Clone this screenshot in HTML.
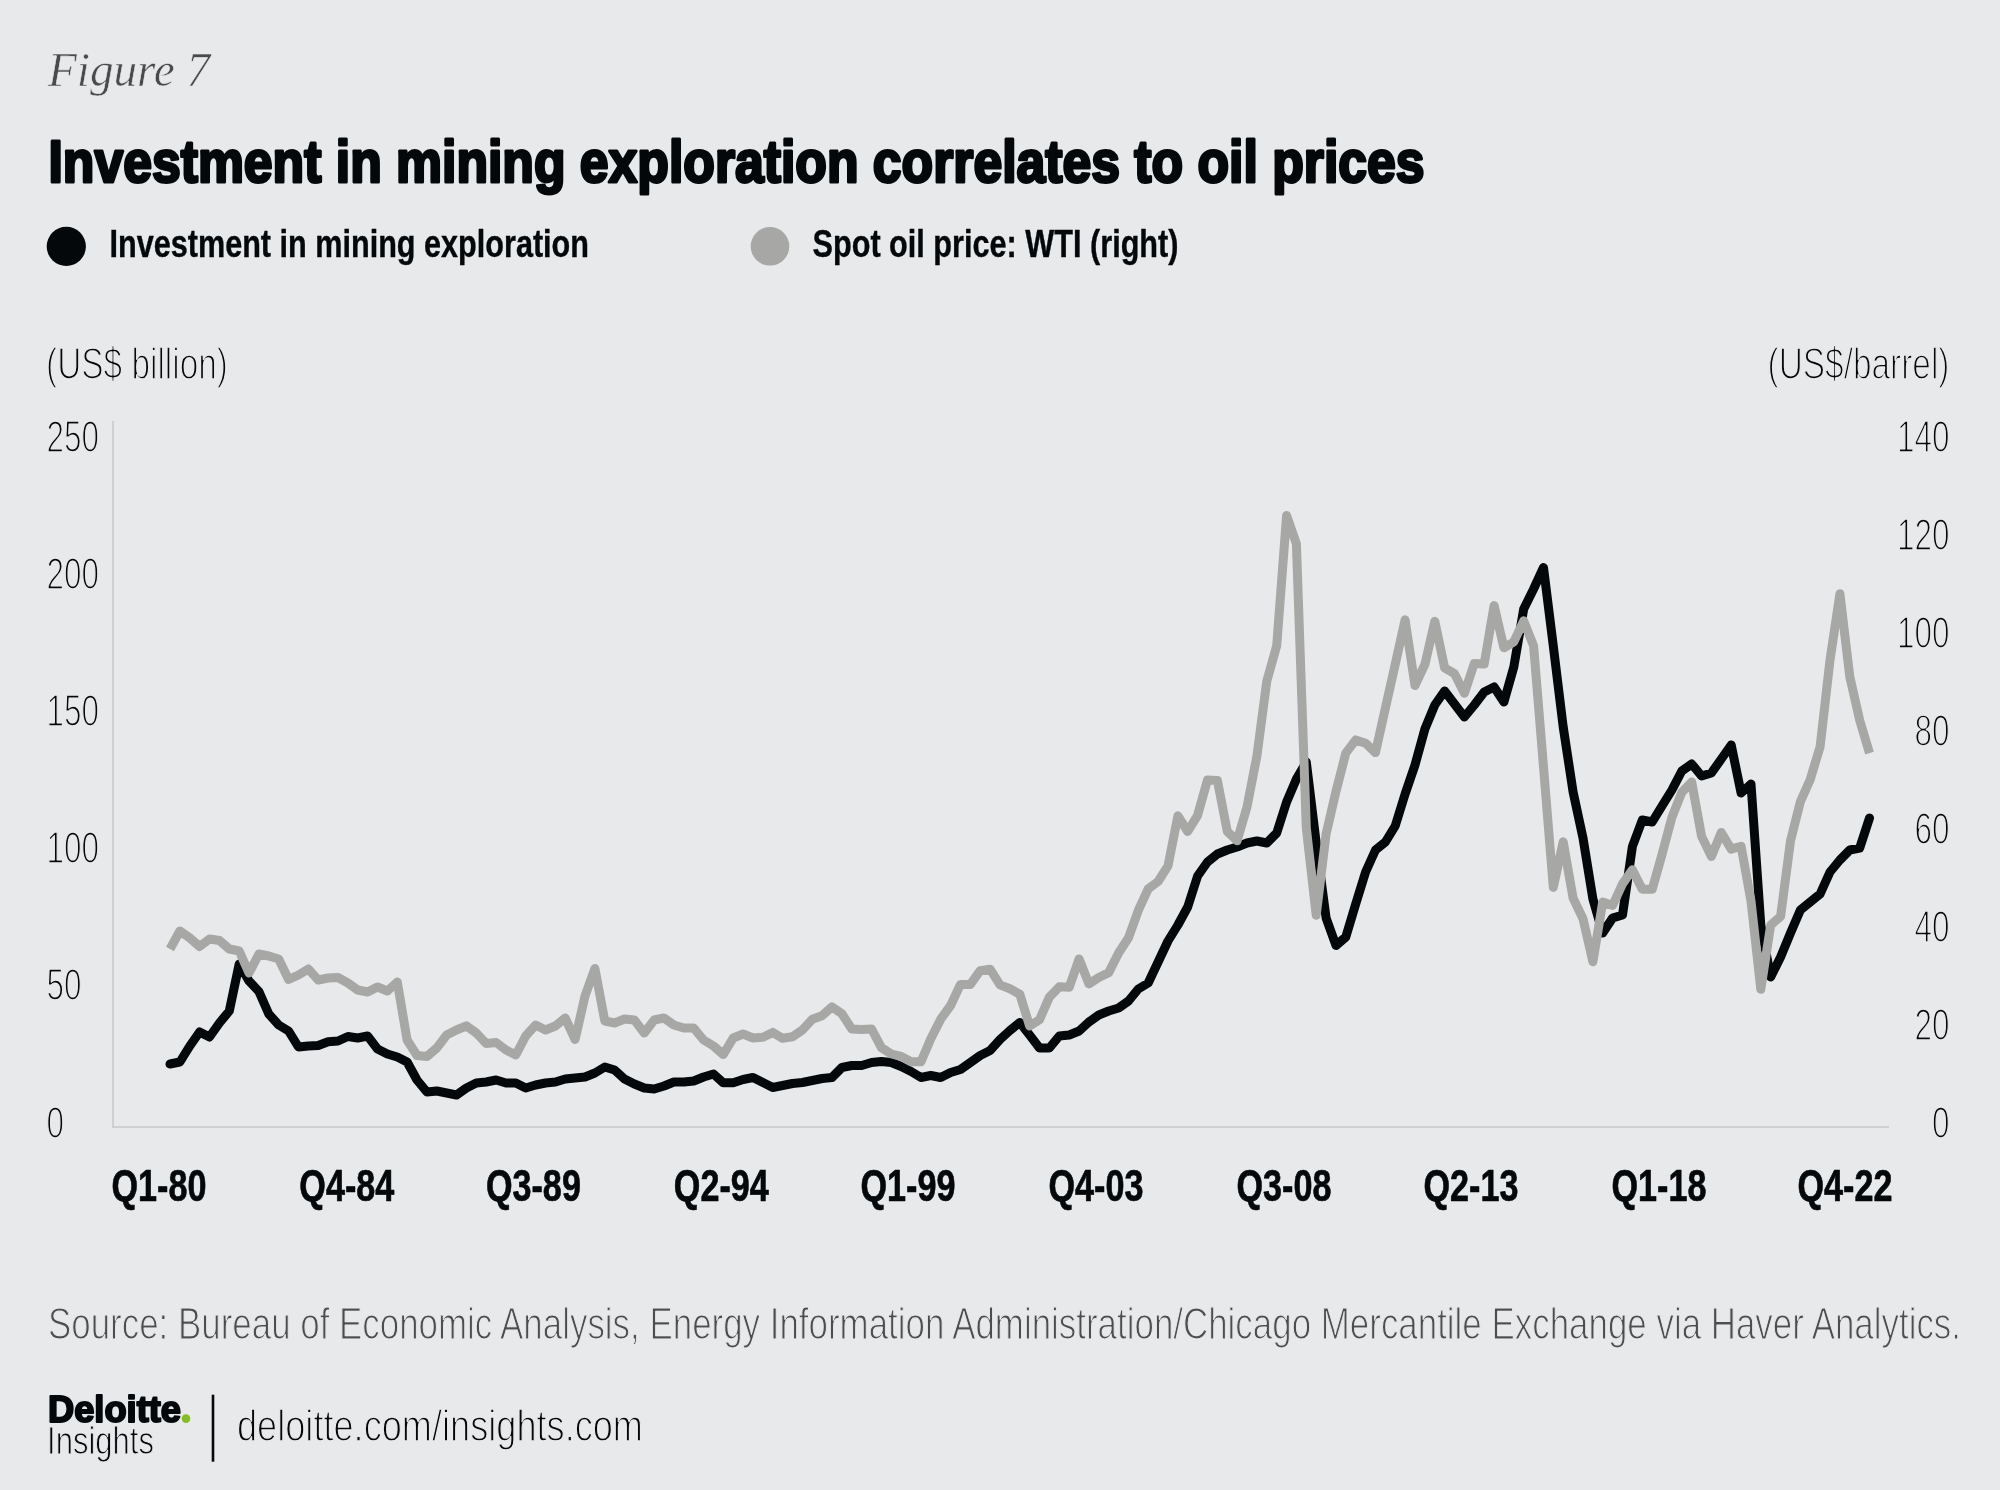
<!DOCTYPE html>
<html><head><meta charset="utf-8"><style>
html,body{margin:0;padding:0;background:#E8E9EB;}
body{width:2000px;height:1490px;overflow:hidden;}
svg{display:block;will-change:transform;}
</style></head><body>
<svg width="2000" height="1490" viewBox="0 0 2000 1490">
<rect x="0" y="0" width="2000" height="1490" fill="#E8E9EB"/>
<text x="48.0" y="86.0" font-size="49.2" font-weight="normal" font-style="italic" fill="#4A4A4A" text-anchor="start" font-family='"Liberation Serif", serif' textLength="162.0" lengthAdjust="spacingAndGlyphs" stroke="#E8E9EB" stroke-width="0.60" stroke-linejoin="round">Figure 7</text>
<text x="48.5" y="181.5" font-size="59.0" font-weight="bold" font-style="normal" fill="#05080A" text-anchor="start" font-family='"Liberation Sans", sans-serif' textLength="1376.0" lengthAdjust="spacingAndGlyphs" stroke="#05080A" stroke-width="3.00" stroke-linejoin="round">Investment in mining exploration correlates to oil prices</text>
<text x="109.5" y="257.0" font-size="38.5" font-weight="bold" font-style="normal" fill="#05080A" text-anchor="start" font-family='"Liberation Sans", sans-serif' textLength="479.5" lengthAdjust="spacingAndGlyphs" stroke="#05080A" stroke-width="0.40" stroke-linejoin="round">Investment in mining exploration</text>
<text x="812.5" y="257.0" font-size="38.5" font-weight="bold" font-style="normal" fill="#05080A" text-anchor="start" font-family='"Liberation Sans", sans-serif' textLength="366.0" lengthAdjust="spacingAndGlyphs" stroke="#05080A" stroke-width="0.40" stroke-linejoin="round">Spot oil price: WTI (right)</text>
<text x="46.0" y="379.3" font-size="44.0" font-weight="normal" font-style="normal" fill="#05080A" text-anchor="start" font-family='"Liberation Sans", sans-serif' textLength="182.0" lengthAdjust="spacingAndGlyphs" stroke="#E8E9EB" stroke-width="1.60" stroke-linejoin="round">(US$ billion)</text>
<text x="1949.5" y="379.3" font-size="44.0" font-weight="normal" font-style="normal" fill="#05080A" text-anchor="end" font-family='"Liberation Sans", sans-serif' textLength="182.0" lengthAdjust="spacingAndGlyphs" stroke="#E8E9EB" stroke-width="1.60" stroke-linejoin="round">(US$/barrel)</text>
<text x="48.0" y="1339.0" font-size="44.5" font-weight="normal" font-style="normal" fill="#4D4D4D" text-anchor="start" font-family='"Liberation Sans", sans-serif' textLength="1913.0" lengthAdjust="spacingAndGlyphs" stroke="#E8E9EB" stroke-width="1.20" stroke-linejoin="round">Source: Bureau of Economic Analysis, Energy Information Administration/Chicago Mercantile Exchange via Haver Analytics.</text>
<text x="48.0" y="1422.0" font-size="37.0" font-weight="bold" font-style="normal" fill="#05080A" text-anchor="start" font-family='"Liberation Sans", sans-serif' textLength="133.0" lengthAdjust="spacingAndGlyphs" stroke="#05080A" stroke-width="2.00" stroke-linejoin="round">Deloitte</text>
<text x="47.0" y="1454.0" font-size="38.0" font-weight="normal" font-style="normal" fill="#05080A" text-anchor="start" font-family='"Liberation Sans", sans-serif' textLength="107.0" lengthAdjust="spacingAndGlyphs" stroke="#E8E9EB" stroke-width="1.00" stroke-linejoin="round">Insights</text>
<text x="237.0" y="1441.2" font-size="44.0" font-weight="normal" font-style="normal" fill="#05080A" text-anchor="start" font-family='"Liberation Sans", sans-serif' textLength="406.0" lengthAdjust="spacingAndGlyphs" stroke="#E8E9EB" stroke-width="1.40" stroke-linejoin="round">deloitte.com/insights.com</text>
<text x="46.5" y="451.5" font-size="45.0" font-weight="normal" font-style="normal" fill="#05080A" text-anchor="start" font-family='"Liberation Sans", sans-serif' textLength="52.5" lengthAdjust="spacingAndGlyphs" stroke="#E8E9EB" stroke-width="1.60" stroke-linejoin="round">250</text>
<text x="46.5" y="588.5" font-size="45.0" font-weight="normal" font-style="normal" fill="#05080A" text-anchor="start" font-family='"Liberation Sans", sans-serif' textLength="52.5" lengthAdjust="spacingAndGlyphs" stroke="#E8E9EB" stroke-width="1.60" stroke-linejoin="round">200</text>
<text x="46.5" y="725.5" font-size="45.0" font-weight="normal" font-style="normal" fill="#05080A" text-anchor="start" font-family='"Liberation Sans", sans-serif' textLength="52.5" lengthAdjust="spacingAndGlyphs" stroke="#E8E9EB" stroke-width="1.60" stroke-linejoin="round">150</text>
<text x="46.5" y="862.5" font-size="45.0" font-weight="normal" font-style="normal" fill="#05080A" text-anchor="start" font-family='"Liberation Sans", sans-serif' textLength="52.5" lengthAdjust="spacingAndGlyphs" stroke="#E8E9EB" stroke-width="1.60" stroke-linejoin="round">100</text>
<text x="46.5" y="999.5" font-size="45.0" font-weight="normal" font-style="normal" fill="#05080A" text-anchor="start" font-family='"Liberation Sans", sans-serif' textLength="35.0" lengthAdjust="spacingAndGlyphs" stroke="#E8E9EB" stroke-width="1.60" stroke-linejoin="round">50</text>
<text x="46.5" y="1137.5" font-size="45.0" font-weight="normal" font-style="normal" fill="#05080A" text-anchor="start" font-family='"Liberation Sans", sans-serif' textLength="17.5" lengthAdjust="spacingAndGlyphs" stroke="#E8E9EB" stroke-width="1.60" stroke-linejoin="round">0</text>
<text x="1949.5" y="451.5" font-size="45.0" font-weight="normal" font-style="normal" fill="#05080A" text-anchor="end" font-family='"Liberation Sans", sans-serif' textLength="52.5" lengthAdjust="spacingAndGlyphs" stroke="#E8E9EB" stroke-width="1.60" stroke-linejoin="round">140</text>
<text x="1949.5" y="549.5" font-size="45.0" font-weight="normal" font-style="normal" fill="#05080A" text-anchor="end" font-family='"Liberation Sans", sans-serif' textLength="52.5" lengthAdjust="spacingAndGlyphs" stroke="#E8E9EB" stroke-width="1.60" stroke-linejoin="round">120</text>
<text x="1949.5" y="647.5" font-size="45.0" font-weight="normal" font-style="normal" fill="#05080A" text-anchor="end" font-family='"Liberation Sans", sans-serif' textLength="52.5" lengthAdjust="spacingAndGlyphs" stroke="#E8E9EB" stroke-width="1.60" stroke-linejoin="round">100</text>
<text x="1949.5" y="745.5" font-size="45.0" font-weight="normal" font-style="normal" fill="#05080A" text-anchor="end" font-family='"Liberation Sans", sans-serif' textLength="35.0" lengthAdjust="spacingAndGlyphs" stroke="#E8E9EB" stroke-width="1.60" stroke-linejoin="round">80</text>
<text x="1949.5" y="843.5" font-size="45.0" font-weight="normal" font-style="normal" fill="#05080A" text-anchor="end" font-family='"Liberation Sans", sans-serif' textLength="35.0" lengthAdjust="spacingAndGlyphs" stroke="#E8E9EB" stroke-width="1.60" stroke-linejoin="round">60</text>
<text x="1949.5" y="941.5" font-size="45.0" font-weight="normal" font-style="normal" fill="#05080A" text-anchor="end" font-family='"Liberation Sans", sans-serif' textLength="35.0" lengthAdjust="spacingAndGlyphs" stroke="#E8E9EB" stroke-width="1.60" stroke-linejoin="round">40</text>
<text x="1949.5" y="1039.5" font-size="45.0" font-weight="normal" font-style="normal" fill="#05080A" text-anchor="end" font-family='"Liberation Sans", sans-serif' textLength="35.0" lengthAdjust="spacingAndGlyphs" stroke="#E8E9EB" stroke-width="1.60" stroke-linejoin="round">20</text>
<text x="1949.5" y="1137.5" font-size="45.0" font-weight="normal" font-style="normal" fill="#05080A" text-anchor="end" font-family='"Liberation Sans", sans-serif' textLength="17.5" lengthAdjust="spacingAndGlyphs" stroke="#E8E9EB" stroke-width="1.60" stroke-linejoin="round">0</text>
<text x="159.0" y="1201.0" font-size="44.5" font-weight="bold" font-style="normal" fill="#05080A" text-anchor="middle" font-family='"Liberation Sans", sans-serif' textLength="95.0" lengthAdjust="spacingAndGlyphs" stroke="#05080A" stroke-width="0.70" stroke-linejoin="round">Q1-80</text>
<text x="346.8" y="1201.0" font-size="44.5" font-weight="bold" font-style="normal" fill="#05080A" text-anchor="middle" font-family='"Liberation Sans", sans-serif' textLength="95.0" lengthAdjust="spacingAndGlyphs" stroke="#05080A" stroke-width="0.70" stroke-linejoin="round">Q4-84</text>
<text x="533.4" y="1201.0" font-size="44.5" font-weight="bold" font-style="normal" fill="#05080A" text-anchor="middle" font-family='"Liberation Sans", sans-serif' textLength="95.0" lengthAdjust="spacingAndGlyphs" stroke="#05080A" stroke-width="0.70" stroke-linejoin="round">Q3-89</text>
<text x="721.3" y="1201.0" font-size="44.5" font-weight="bold" font-style="normal" fill="#05080A" text-anchor="middle" font-family='"Liberation Sans", sans-serif' textLength="95.0" lengthAdjust="spacingAndGlyphs" stroke="#05080A" stroke-width="0.70" stroke-linejoin="round">Q2-94</text>
<text x="908.0" y="1201.0" font-size="44.5" font-weight="bold" font-style="normal" fill="#05080A" text-anchor="middle" font-family='"Liberation Sans", sans-serif' textLength="95.0" lengthAdjust="spacingAndGlyphs" stroke="#05080A" stroke-width="0.70" stroke-linejoin="round">Q1-99</text>
<text x="1096.0" y="1201.0" font-size="44.5" font-weight="bold" font-style="normal" fill="#05080A" text-anchor="middle" font-family='"Liberation Sans", sans-serif' textLength="95.0" lengthAdjust="spacingAndGlyphs" stroke="#05080A" stroke-width="0.70" stroke-linejoin="round">Q4-03</text>
<text x="1284.0" y="1201.0" font-size="44.5" font-weight="bold" font-style="normal" fill="#05080A" text-anchor="middle" font-family='"Liberation Sans", sans-serif' textLength="95.0" lengthAdjust="spacingAndGlyphs" stroke="#05080A" stroke-width="0.70" stroke-linejoin="round">Q3-08</text>
<text x="1471.0" y="1201.0" font-size="44.5" font-weight="bold" font-style="normal" fill="#05080A" text-anchor="middle" font-family='"Liberation Sans", sans-serif' textLength="95.0" lengthAdjust="spacingAndGlyphs" stroke="#05080A" stroke-width="0.70" stroke-linejoin="round">Q2-13</text>
<text x="1659.0" y="1201.0" font-size="44.5" font-weight="bold" font-style="normal" fill="#05080A" text-anchor="middle" font-family='"Liberation Sans", sans-serif' textLength="95.0" lengthAdjust="spacingAndGlyphs" stroke="#05080A" stroke-width="0.70" stroke-linejoin="round">Q1-18</text>
<text x="1845.0" y="1201.0" font-size="44.5" font-weight="bold" font-style="normal" fill="#05080A" text-anchor="middle" font-family='"Liberation Sans", sans-serif' textLength="95.0" lengthAdjust="spacingAndGlyphs" stroke="#05080A" stroke-width="0.70" stroke-linejoin="round">Q4-22</text>
<circle cx="66.3" cy="246.4" r="19.6" fill="#05080A"/>
<circle cx="770" cy="246.3" r="19.3" fill="#A7A7A5"/>
<rect x="112" y="421" width="2" height="707" fill="#CFD0D0"/>
<rect x="112" y="1126" width="1777" height="2" fill="#CFD0D0"/>
<polyline points="170.0,1064.0 179.9,1062.0 189.8,1046.0 199.6,1032.0 209.5,1037.0 219.4,1023.0 229.3,1011.0 239.2,964.0 249.0,981.0 258.9,991.5 268.8,1014.0 278.7,1025.0 288.6,1031.0 298.5,1047.0 308.3,1046.0 318.2,1045.5 328.1,1041.7 338.0,1041.0 347.9,1036.5 357.7,1038.0 367.6,1036.0 377.5,1049.0 387.4,1054.0 397.3,1057.0 407.1,1062.0 417.0,1080.0 426.9,1092.0 436.8,1091.0 446.7,1093.0 456.5,1095.0 466.4,1088.0 476.3,1083.0 486.2,1082.0 496.1,1080.0 506.0,1083.0 515.8,1083.0 525.7,1088.0 535.6,1085.0 545.5,1083.0 555.4,1082.0 565.2,1079.0 575.1,1078.0 585.0,1077.0 594.9,1073.0 604.8,1067.0 614.6,1070.0 624.5,1079.0 634.4,1084.0 644.3,1088.0 654.2,1089.0 664.0,1086.0 673.9,1082.0 683.8,1082.0 693.7,1081.0 703.6,1077.0 713.5,1074.0 723.3,1082.8 733.2,1082.8 743.1,1079.5 753.0,1077.5 762.9,1082.5 772.7,1087.5 782.6,1085.5 792.5,1083.5 802.4,1082.5 812.3,1080.5 822.1,1078.5 832.0,1077.5 841.9,1067.5 851.8,1065.5 861.7,1065.5 871.6,1062.5 881.4,1061.5 891.3,1062.5 901.2,1066.5 911.1,1071.5 921.0,1077.5 930.8,1075.5 940.7,1077.5 950.6,1072.5 960.5,1069.5 970.4,1062.5 980.2,1055.5 990.1,1050.5 1000.0,1039.5 1009.9,1030.5 1019.8,1022.5 1029.6,1035.0 1039.5,1048.0 1049.4,1048.0 1059.3,1036.0 1069.2,1035.0 1079.1,1031.0 1088.9,1022.0 1098.8,1015.0 1108.7,1011.0 1118.6,1008.0 1128.5,1001.0 1138.3,989.0 1148.2,983.0 1158.1,962.0 1168.0,941.0 1177.9,925.0 1187.7,907.0 1197.6,876.0 1207.5,862.0 1217.4,854.0 1227.3,850.0 1237.1,847.0 1247.0,843.0 1256.9,841.0 1266.8,843.0 1276.7,833.0 1286.6,802.0 1296.4,779.0 1306.3,762.0 1316.2,843.0 1326.1,918.0 1336.0,945.5 1345.8,937.0 1355.7,904.0 1365.6,872.0 1375.5,850.0 1385.4,842.0 1395.2,826.0 1405.1,794.0 1415.0,765.0 1424.9,729.0 1434.8,705.0 1444.6,691.0 1454.5,704.0 1464.4,717.0 1474.3,705.0 1484.2,692.0 1494.1,687.0 1503.9,702.0 1513.8,667.0 1523.7,609.0 1533.6,589.0 1543.5,567.5 1553.3,646.0 1563.2,727.0 1573.1,792.0 1583.0,838.0 1592.9,899.0 1602.7,933.0 1612.6,918.0 1622.5,915.0 1632.4,846.5 1642.3,820.0 1652.2,822.0 1662.0,806.0 1671.9,790.0 1681.8,771.0 1691.7,764.0 1701.6,776.0 1711.4,773.0 1721.3,759.0 1731.2,745.0 1741.1,793.0 1751.0,784.0 1760.8,925.0 1770.7,977.0 1780.6,957.0 1790.5,933.0 1800.4,910.0 1810.2,902.0 1820.1,894.0 1830.0,872.0 1839.9,860.0 1849.8,850.0 1859.7,848.0 1869.5,818.0" fill="none" stroke="#05080A" stroke-width="9" stroke-linejoin="round" stroke-linecap="round"/>
<polyline points="170.0,949.0 179.9,931.0 189.8,938.0 199.6,946.5 209.5,939.0 219.4,940.5 229.3,949.0 239.2,951.0 249.0,973.0 258.9,954.0 268.8,956.0 278.7,959.0 288.6,979.5 298.5,975.0 308.3,969.0 318.2,980.0 328.1,978.0 338.0,977.5 347.9,983.0 357.7,990.0 367.6,992.0 377.5,987.0 387.4,991.0 397.3,982.0 407.1,1040.0 417.0,1055.5 426.9,1056.5 436.8,1048.0 446.7,1035.0 456.5,1030.0 466.4,1025.8 476.3,1033.0 486.2,1043.5 496.1,1042.5 506.0,1050.0 515.8,1055.0 525.7,1036.0 535.6,1025.0 545.5,1030.0 555.4,1026.0 565.2,1018.0 575.1,1039.5 585.0,996.0 594.9,968.5 604.8,1021.0 614.6,1023.0 624.5,1019.0 634.4,1020.0 644.3,1033.0 654.2,1020.0 664.0,1018.0 673.9,1025.0 683.8,1028.0 693.7,1028.0 703.6,1040.0 713.5,1046.0 723.3,1054.5 733.2,1038.0 743.1,1034.0 753.0,1038.0 762.9,1037.3 772.7,1032.4 782.6,1038.3 792.5,1036.8 802.4,1030.0 812.3,1019.2 822.1,1015.7 832.0,1006.9 841.9,1013.8 851.8,1029.0 861.7,1029.5 871.6,1029.0 881.4,1047.6 891.3,1054.0 901.2,1056.4 911.1,1061.8 921.0,1061.8 930.8,1038.8 940.7,1019.2 950.6,1005.5 960.5,984.4 970.4,984.4 980.2,970.7 990.1,969.2 1000.0,984.9 1009.9,988.8 1019.8,994.2 1029.6,1026.0 1039.5,1019.7 1049.4,997.1 1059.3,986.8 1069.2,987.3 1079.1,958.9 1088.9,983.9 1098.8,977.5 1108.7,972.6 1118.6,953.0 1128.5,937.8 1138.3,910.4 1148.2,888.8 1158.1,881.5 1168.0,865.8 1177.9,815.8 1187.7,831.5 1197.6,815.3 1207.5,780.0 1217.4,780.5 1227.3,831.5 1237.1,840.8 1247.0,807.0 1256.9,756.0 1266.8,681.1 1276.7,645.8 1286.6,515.4 1296.4,543.8 1306.3,828.0 1316.2,915.3 1326.1,834.0 1336.0,791.3 1345.8,753.1 1355.7,739.9 1365.6,743.3 1375.5,752.6 1385.4,708.0 1395.2,664.4 1405.1,619.8 1415.0,685.5 1424.9,664.4 1434.8,621.3 1444.6,667.8 1454.5,673.7 1464.4,693.3 1474.3,663.4 1484.2,663.9 1494.1,605.6 1503.9,647.8 1513.8,641.9 1523.7,620.8 1533.6,645.8 1543.5,766.8 1553.3,887.4 1563.2,841.8 1573.1,898.1 1583.0,918.7 1592.9,961.8 1602.7,902.1 1612.6,905.5 1622.5,883.9 1632.4,869.7 1642.3,889.3 1652.2,889.3 1662.0,854.5 1671.9,817.3 1681.8,792.3 1691.7,782.0 1701.6,836.4 1711.4,856.5 1721.3,832.5 1731.2,849.1 1741.1,846.2 1751.0,901.1 1760.8,989.3 1770.7,925.1 1780.6,916.3 1790.5,840.8 1800.4,801.6 1810.2,779.6 1820.1,746.7 1830.0,660.0 1839.9,593.8 1849.8,676.7 1859.7,720.3 1869.5,753.1" fill="none" stroke="#A7A7A5" stroke-width="9" stroke-linejoin="round" stroke-linecap="butt"/>
<circle cx="186" cy="1418.6" r="4.3" fill="#86BC25"/>
<rect x="211.7" y="1394.7" width="2.6" height="67" fill="#05080A"/>
</svg>
</body></html>
